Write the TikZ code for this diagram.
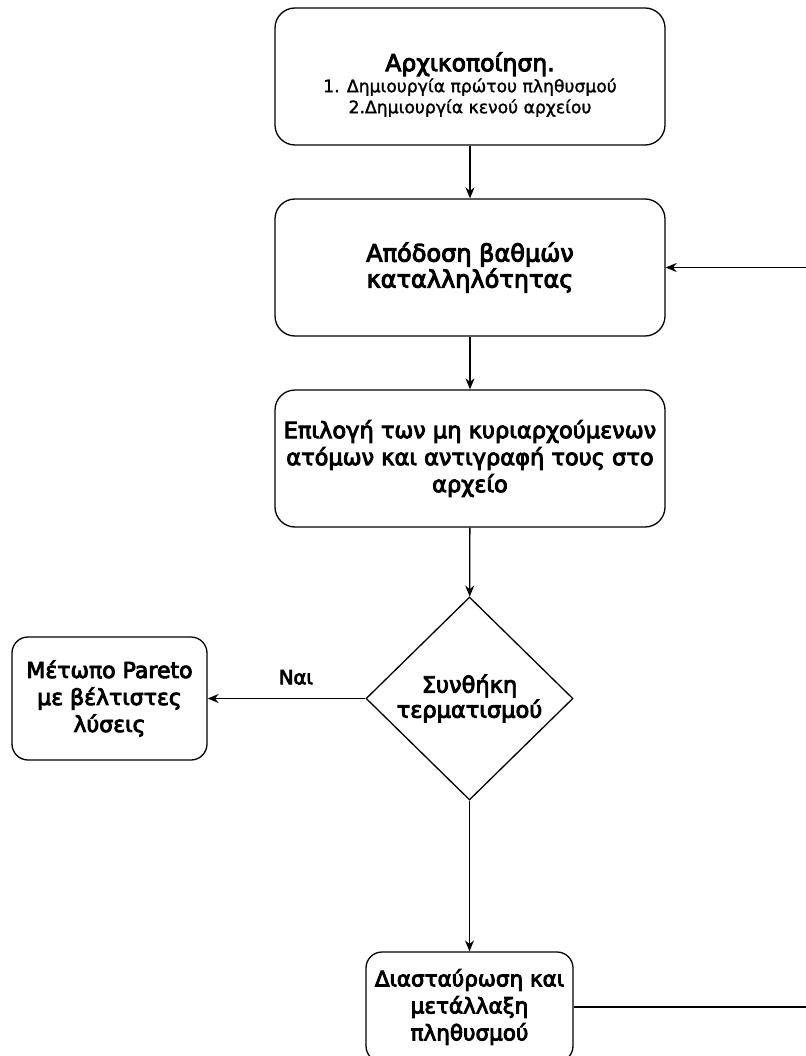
\documentclass[tikz,border=0pt]{standalone}
\usepackage{fontspec}
\setmainfont{DejaVu Sans}[RawFeature={embolden=1.5}]
\newfontfamily\medfont{DejaVu Sans}[RawFeature={embolden=4}]
\usetikzlibrary{arrows.meta,shapes.geometric}

\tikzset{
  stepbox/.style={draw, rounded corners=20pt, line width=1.3pt, align=center,
    minimum width=390pt, minimum height=137pt, inner sep=2pt,
    font=\medfont\fontsize{22.5}{27}\selectfont},
  smallbox/.style={stepbox, rounded corners=16pt, minimum width=207pt, minimum height=110pt,
    font=\medfont\fontsize{21.5}{27}\selectfont},
  decision/.style={draw, diamond, line width=1.3pt, align=center, inner sep=0pt,
    minimum width=207pt, minimum height=203pt,
    font=\medfont\fontsize{22.5}{25}\selectfont},
  flow/.style={line width=1.3pt, -{Stealth[length=11pt,width=9pt]}},
  plain/.style={line width=1.3pt}
}

\begin{document}
\begin{tikzpicture}[x=1pt,y=-1pt]
  \useasboundingbox (0,0) rectangle (805,1056);

  % main steps
  \node[stepbox, font=\fontsize{17.2}{21}\selectfont] (init) at (470,76.5)
    {{\medfont\fontsize{23.5}{21}\selectfont\rule{0pt}{35pt}Αρχικοποίηση.}\\1. Δημιουργία πρώτου πληθυσμού\\2.Δημιουργία κενού αρχείου};
  \node[stepbox, font=\medfont\fontsize{24}{26}\selectfont] (fit) at (470,267.5) {Απόδοση βαθμών\\καταλληλότητας};
  \node[stepbox] (sel) at (470,458.5) {Επιλογή των μη κυριαρχούμενων\\ατόμων και αντιγραφή τους στο\\αρχείο};

  % stop test
  \node[decision] (stop) at (469.5,698.5) {Συνθήκη\\τερματισμού};
  \node[smallbox, minimum width=195pt, minimum height=123pt, font=\medfont\fontsize{22}{27}\selectfont] (pareto) at (109.5,698.5) {Μέτωπο Pareto\\με βέλτιστες\\λύσεις};
  \node[smallbox] (cross) at (469.5,1007) {Διασταύρωση και\\μετάλλαξη\\πληθυσμού};

  \draw[flow] (init) -- (fit);
  \draw[flow] (fit) -- (sel);
  \draw[flow] (sel) -- (stop);
  \draw[flow] (stop) -- (pareto) node[pos=0.44, above=10pt, font=\medfont\fontsize{19.5}{24}\selectfont] (nai) {Ναι};
  \draw[flow] (stop) -- (cross);

  % loop back, out past the right edge
  \coordinate (rb) at (812,1007);
  \coordinate (rt) at (812,267.5);
  \draw[plain] (cross.east) -- (rb) -- (rt);
  \draw[flow] (rt) -- (fit.east);
\end{tikzpicture}
\end{document}
